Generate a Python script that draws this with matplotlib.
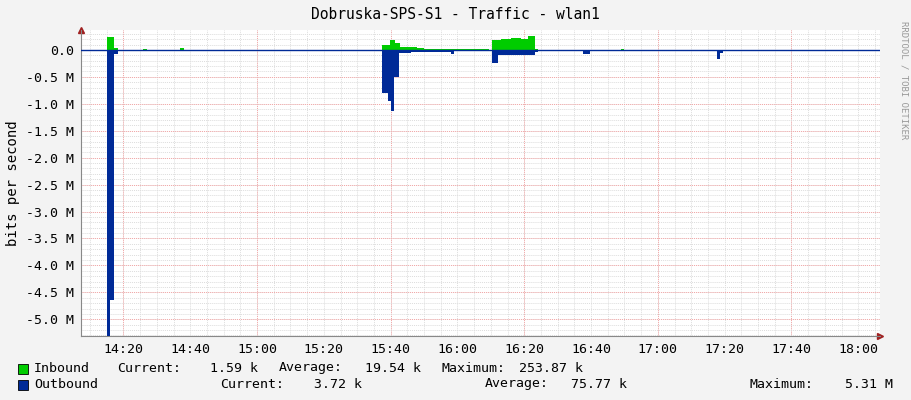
import matplotlib
matplotlib.use("Agg")
import matplotlib.pyplot as plt
import numpy as np

# minutes after 14:00, step boundaries (value holds until next time)
in_times = [7.3, 15.1, 17.2, 18.4, 26, 27, 37, 38, 97.4, 99.8, 101.3, 102.8, 108, 110, 118, 129.5, 130.3, 133, 136, 139, 141, 143.2, 144, 169, 170, 246.5]
in_vals  = [0.005, 0.24, 0.03, 0.005, 0.01, 0.005, 0.03, 0.005, 0.10, 0.18, 0.12, 0.05, 0.03, 0.02, 0.02, 0.005, 0.18, 0.20, 0.22, 0.20, 0.25, 0.02, 0.005, 0.02, 0.005, 0.005]
out_times = [7.3, 15.1, 16.0, 17.2, 18.4, 97.4, 99.3, 100.2, 101.1, 102.6, 106, 118, 119, 129.5, 130.3, 132.1, 143.2, 144, 157.6, 159.7, 197.7, 198.6, 199.4, 246.5]
out_vals  = [0.005, 5.31, 4.65, 0.07, 0.005, 0.80, 0.95, 1.13, 0.50, 0.06, 0.03, 0.07, 0.01, 0.005, 0.25, 0.10, 0.03, 0.005, 0.07, 0.005, 0.17, 0.06, 0.005, 0.005]
tick_minutes = [20, 40, 60, 80, 100, 120, 140, 160, 180, 200, 220, 240]
tick_labels = ["14:20", "14:40", "15:00", "15:20", "15:40", "16:00", "16:20", "16:40", "17:00", "17:20", "17:40", "18:00"]
y_ticks = [0, -0.5, -1.0, -1.5, -2.0, -2.5, -3.0, -3.5, -4.0, -4.5, -5.0]
y_labels = ["0.0", "-0.5 M", "-1.0 M", "-1.5 M", "-2.0 M", "-2.5 M", "-3.0 M", "-3.5 M", "-4.0 M", "-4.5 M", "-5.0 M"]

mono = "DejaVu Sans Mono"
fig = plt.figure(figsize=(9.11, 4.0), dpi=100, facecolor="#F3F3F3")
ax = fig.add_axes([81/911, 64/400, 799/911, 306/400])
ax.set_facecolor("white")
xmin, xmax = 7.3, 246.5
ax.set_xlim(xmin, xmax)
ax.set_ylim(-5.31, 0.37)

# grids
for m in np.arange(10, 250, 5):
    ax.axvline(m, color="#DDDDDD", lw=0.7, ls=(0, (1, 1)), zorder=0)
for m in [20, 60, 100, 140, 180, 220]:
    ax.axvline(m, color="#F4A6A6", lw=0.7, ls=(0, (1, 1)), zorder=0)
for v in np.arange(-5.3, 0.4, 0.1):
    ax.axhline(v, color="#DDDDDD", lw=0.7, ls=(0, (1, 1)), zorder=0)
for v in y_ticks:
    ax.axhline(v, color="#F4A6A6", lw=0.7, ls=(0, (1, 1)), zorder=0)

it = np.array(in_times); iv = np.array(in_vals)
ot = np.array(out_times); ov = -np.array(out_vals)
ax.fill_between(it, 0, iv, step="post", color="#00CC00", lw=0, zorder=2)
ax.fill_between(ot, 0, ov, step="post", color="#002A97", lw=0, zorder=3)
ax.axhline(0, color="#002A97", lw=1, zorder=4)

ax.set_xticks(tick_minutes)
ax.set_xticklabels(tick_labels, fontfamily=mono, fontsize=9.5)
ax.set_yticks(y_ticks)
ax.set_yticklabels(y_labels, fontfamily=mono, fontsize=9.5)
ax.tick_params(length=0, pad=5, colors="black")
for s in ["top", "right"]:
    ax.spines[s].set_visible(False)
for s in ["left", "bottom"]:
    ax.spines[s].set_color("#888888")
    ax.spines[s].set_linewidth(0.8)
ax.plot(1, 0, ">", transform=ax.transAxes, color="#A02020", ms=4, clip_on=False)
ax.plot(0, 1, "^", transform=ax.transAxes, color="#A02020", ms=4, clip_on=False)
ax.set_ylabel("bits per second", fontfamily=mono, fontsize=10, labelpad=4)

fig.text(0.5, 0.963, "Dobruska-SPS-S1 - Traffic - wlan1", ha="center", va="center", fontfamily=mono, fontsize=10.5)
fig.text(0.992, 0.8, "RRDTOOL / TOBI OETIKER", rotation=270, ha="center", va="center", fontfamily=mono, fontsize=6.5, color="#999999")

# legend
fig.patches.append(plt.Rectangle((18/911, 1-374/400), 10/911, 10/400, transform=fig.transFigure, facecolor="#00CC00", edgecolor="black", lw=0.6))
fig.patches.append(plt.Rectangle((18/911, 1-390/400), 10/911, 10/400, transform=fig.transFigure, facecolor="#002A97", edgecolor="black", lw=0.6))
fs = 9.5
def t(x, y, s, ha="left"):
    fig.text(x/911, 1-y/400, s, ha=ha, va="center", fontfamily=mono, fontsize=fs)
t(34, 368, "Inbound")
t(117, 368, "Current:")
t(258, 368, "1.59 k", ha="right")
t(279, 368, "Average:")
t(421, 368, "19.54 k", ha="right")
t(441, 368, "Maximum:")
t(583, 368, "253.87 k", ha="right")
t(34, 384, "Outbound")
t(220, 384, "Current:")
t(362, 384, "3.72 k", ha="right")
t(485, 384, "Average:")
t(627, 384, "75.77 k", ha="right")
t(750, 384, "Maximum:")
t(893, 384, "5.31 M", ha="right")

fig.savefig("out.png", dpi=100, facecolor=fig.get_facecolor())
